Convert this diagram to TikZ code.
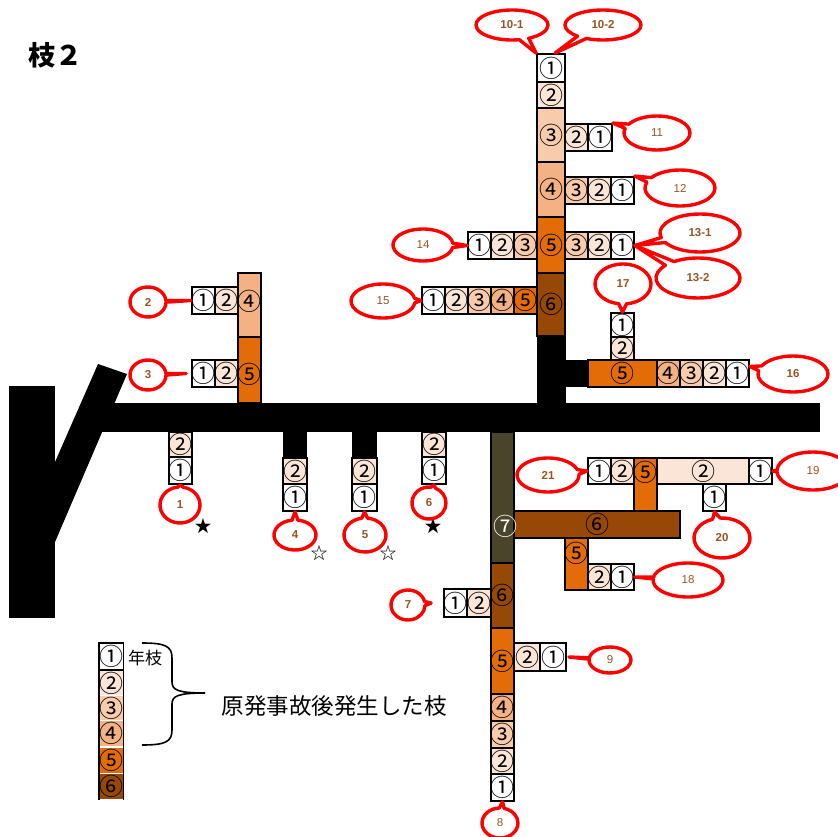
\documentclass[tikz,border=0pt]{standalone}
\usepackage{fontspec}
\setmainfont{Liberation Sans}
\newfontfamily\cjk{Noto Sans CJK JP}
\usetikzlibrary{shapes.callouts}
\definecolor{cA}{HTML}{FFFFFF}
\definecolor{cB}{HTML}{FBE5D6}
\definecolor{cC}{HTML}{F8CBAD}
\definecolor{cD}{HTML}{F4B183}
\definecolor{cE}{HTML}{E36C09}
\definecolor{cF}{HTML}{974806}
\definecolor{cG}{HTML}{4A452A}
\definecolor{lbl}{HTML}{985421}
\tikzset{
  bx/.style={draw=black, line width=1.8pt, inner sep=0pt, font=\cjk\fontsize{24}{24}\selectfont},
  co/.style={ellipse callout, draw=red, line width=3.4pt, fill=white, inner sep=0pt, line join=round, text=lbl, font=\fontsize{11.5}{11.5}\selectfont, callout pointer arc=16},
  cob/.style={co, font=\bfseries\fontsize{11.5}{11.5}\selectfont},
  thin/.style={callout pointer arc=6},
  numtxt/.style={inner sep=0pt, font=\cjk\fontsize{24}{24}\selectfont},
  star/.style={inner sep=0pt, font=\cjk\fontsize{17}{17}\selectfont}
}
\newcommand\bx[7]{\node[bx, fill=#6, minimum width={#4-#2}, minimum height={#5-#3}] (#1) at ({(#2+#4)/2},{(#3+#5)/2}) {\makebox[0pt]{#7}};}
\newcommand\callo[7]{\node[#7, minimum width=#3, minimum height=#4, callout absolute pointer={#5}] (#1) at #2 {#6};}
\begin{document}
\begin{tikzpicture}[x=1pt,y=-1pt]
\useasboundingbox (0,0) rectangle (837,837);
% title
\node[inner sep=0pt, font=\cjk\bfseries\fontsize{27}{27}\selectfont] (title) at (55,55) {枝２};
% black main branches
\fill[black] (9,386) rectangle (55,618);
\fill[black] (98,364) -- (127,374) -- (55,542) -- (55,462) -- cycle;
\fill[black] (100,403) rectangle (820,432);
\fill[black] (537,330) rectangle (566,403);
\fill[black] (566,360) rectangle (590,387);
\fill[black] (283,430) rectangle (307,459);
\fill[black] (352,430) rectangle (377,459);
% upper trunk
\bx{t1}{537}{54}{565}{82}{cA}{①}
\bx{t2}{537}{82}{565}{108}{cB}{②}
\bx{t3}{537}{108}{565}{162}{cC}{③}
\bx{t4}{537}{162}{565}{217}{cD}{④}
\bx{t5}{537}{217}{565}{273}{cE}{⑤}
\bx{t6}{537}{273}{565}{336}{cF}{⑥}
% branch 11
\bx{a11b}{565}{124}{588}{151}{cB}{②}
\bx{a11a}{588}{124}{612}{151}{cA}{①}
% branch 12
\bx{a12c}{565}{177}{588}{204}{cC}{③}
\bx{a12b}{588}{177}{611}{204}{cB}{②}
\bx{a12a}{611}{177}{634}{204}{cA}{①}
% branch 13
\bx{a13c}{565}{232}{588}{259}{cC}{③}
\bx{a13b}{588}{232}{611}{259}{cB}{②}
\bx{a13a}{611}{232}{634}{259}{cA}{①}
% branch 14
\bx{a14a}{468}{232}{491}{259}{cA}{①}
\bx{a14b}{491}{232}{514}{259}{cB}{②}
\bx{a14c}{514}{232}{537}{259}{cC}{③}
% branch 15
\bx{a15a}{422}{287}{445}{314}{cA}{①}
\bx{a15b}{445}{287}{468}{314}{cB}{②}
\bx{a15c}{468}{287}{491}{314}{cC}{③}
\bx{a15d}{491}{287}{514}{314}{cD}{④}
\bx{a15e}{514}{287}{537}{314}{cE}{⑤}
% branch 16
\bx{a16e}{588}{360}{657}{387}{cE}{⑤}
\bx{a16d}{657}{360}{680}{387}{cD}{④}
\bx{a16c}{680}{360}{703}{387}{cC}{③}
\bx{a16b}{703}{360}{726}{387}{cB}{②}
\bx{a16a}{726}{360}{749}{387}{cA}{①}
% branch 17
\bx{a17a}{611}{313}{634}{337}{cA}{①}
\bx{a17b}{611}{337}{634}{360}{cB}{②}
% left branch
\bx{l4}{238}{273}{261}{337}{cD}{}
\bx{l5}{238}{337}{261}{403}{cE}{}
\node[numtxt] (l4t) at (249.5,301) {④};
\node[numtxt] (l5t) at (249.5,374) {⑤};
\bx{b2a}{192}{287}{215}{314}{cA}{①}
\bx{b2b}{215}{287}{238}{314}{cB}{②}
\bx{b3a}{192}{360}{215}{387}{cA}{①}
\bx{b3b}{215}{360}{238}{387}{cB}{②}
% short branches below
\bx{c1b}{169}{432}{192}{457}{cB}{②}
\bx{c1a}{169}{457}{192}{484}{cA}{①}
\bx{c4b}{283}{458}{307}{484}{cB}{②}
\bx{c4a}{283}{484}{307}{511}{cA}{①}
\bx{c5b}{352}{458}{377}{484}{cB}{②}
\bx{c5a}{352}{484}{377}{511}{cA}{①}
\bx{c6b}{422}{432}{446}{457}{cB}{②}
\bx{c6a}{422}{457}{446}{484}{cA}{①}
% lower trunk
\bx{e7}{491}{432}{514}{563}{cG}{}
\bx{e6}{491}{563}{514}{628}{cF}{⑥}
\bx{e5}{491}{628}{514}{694}{cE}{⑤}
\bx{e4}{491}{694}{514}{721}{cD}{④}
\bx{e3}{491}{721}{514}{748}{cC}{③}
\bx{e2}{491}{748}{514}{774}{cB}{②}
\bx{e1}{491}{774}{514}{801}{cA}{①}
\bx{d7a}{444}{589}{467}{617}{cA}{①}
\bx{d7b}{467}{589}{491}{617}{cB}{②}
\bx{d9b}{514}{643}{540}{671}{cB}{②}
\bx{d9a}{540}{643}{566}{671}{cA}{①}
% right lower
\bx{g21e}{634}{458}{657}{511}{cE}{}
\node[numtxt] (g21et) at (645.5,472) {⑤};
\bx{h6}{514}{511}{680}{538}{cF}{⑥}
\bx{g21a}{588}{458}{611}{484}{cA}{①}
\bx{g21b}{611}{458}{634}{484}{cB}{②}
\bx{g19b}{657}{458}{749}{484}{cB}{②}
\bx{g19a}{749}{458}{772}{484}{cA}{①}
\bx{g20}{703}{484}{726}{511}{cA}{①}
\bx{f18e}{565}{538}{588}{590}{cE}{}
\node[numtxt] (f18et) at (576.5,553) {⑤};
\bx{f18b}{588}{564}{611}{590}{cB}{②}
\bx{f18a}{611}{564}{634}{590}{cA}{①}
\node[numtxt, text=white] (e7t) at (505,526) {⑦};
% stars
\node[star] (s1) at (203,526) {★};
\node[star] (s4) at (319,553) {☆};
\node[star] (s5) at (388,553) {☆};
\node[star] (s6) at (433,526) {★};
% callouts
\callo{k101}{(512,25)}{72}{30}{(t1.north west)}{10-1}{cob}
\callo{k102}{(603,25)}{76}{30}{([xshift=4pt]t1.north)}{10-2}{cob}
\callo{k11}{(657,133)}{66}{34}{(a11a.north east)}{11}{co}
\callo{k12}{(680,188)}{70}{36}{(a12a.north east)}{12}{co}
\callo{k131}{(700,233)}{80}{38}{(a13a.east)}{13-1}{cob}
\callo{k132}{(698,278)}{84}{40}{(a13a.east)}{13-2}{cob}
\callo{k14}{(423,245)}{60}{32}{(a14a.west)}{14}{co}
\callo{k15}{(383,301)}{64}{34}{(a15a.west)}{15}{co}
\callo{k16}{(793,374)}{70}{36}{([yshift=7pt]a16a.east)}{16}{cob}
\callo{k17}{(623,284)}{56}{40}{(a17a.north)}{17}{cob}
\callo{k2}{(148,302)}{36}{30}{(b2a.west)}{2}{cob,thin}
\callo{k3}{(148,375)}{36}{30}{([xshift=-5pt]b3a.west)}{3}{cob,thin}
\callo{k1}{(180,505)}{40}{36}{(c1a.south)}{1}{cob}
\callo{k4}{(295,535)}{42}{30}{(c4a.south)}{4}{cob}
\callo{k5}{(365,535)}{42}{34}{(c5a.south)}{5}{cob}
\callo{k6}{(429,503)}{34}{32}{(c6a.south)}{6}{cob}
\callo{k7}{(408,605)}{34}{30}{([xshift=-12pt]d7a.west)}{7}{cob}
\callo{k8}{(500,823)}{36}{30}{(e1.south)}{8}{co}
\callo{k9}{(610,660)}{42}{26}{([xshift=2pt]d9a.east)}{9}{co,thin}
\callo{k18}{(688,580)}{70}{34}{(f18a.east)}{18}{co,thin}
\callo{k19}{(813,471)}{72}{38}{(g19a.east)}{19}{co,thin}
\callo{k20}{(722,538)}{56}{40}{(g20.south)}{20}{cob}
\callo{k21}{(548,475)}{62}{34}{(g21a.west)}{21}{cob}
% legend
\foreach \yy/\cc/\tt [count=\i] in {643/cA/①,670/cB/②,695/cC/③,720/cD/④,747/cE/⑤,773/cF/⑥}{
  \node[fill=\cc, draw=white, line width=0.8pt, inner sep=0pt, minimum width=24, minimum height=26, font=\cjk\fontsize{24}{24}\selectfont, anchor=north] (lg\i) at (111,\yy) {\makebox[0pt]{\tt}};
}
\draw[line width=1.8pt] (lg1.north west) -- (lg6.south west);
\draw[line width=1.8pt] (lg1.north east) -- (lg6.south east);
\draw[line width=1.8pt] (lg1.north west) rectangle (lg1.south east);
\node[inner sep=0pt, font=\cjk\fontsize{17}{17}\selectfont] (nen) at (145,658) {年枝};
\draw[line width=1.6pt] (142,643) .. controls (165,643) and (172,646) .. (172,658) -- (172,682) .. controls (172,690) and (178,693) .. (205,693);
\draw[line width=1.6pt] (142,745) .. controls (165,745) and (172,742) .. (172,730) -- (172,704) .. controls (172,696) and (178,693) .. (205,693);
\node[inner sep=0pt, font=\cjk\fontsize{22.5}{22.5}\selectfont] (desc) at (334,706) {原発事故後発生した枝};
\end{tikzpicture}
\end{document}
